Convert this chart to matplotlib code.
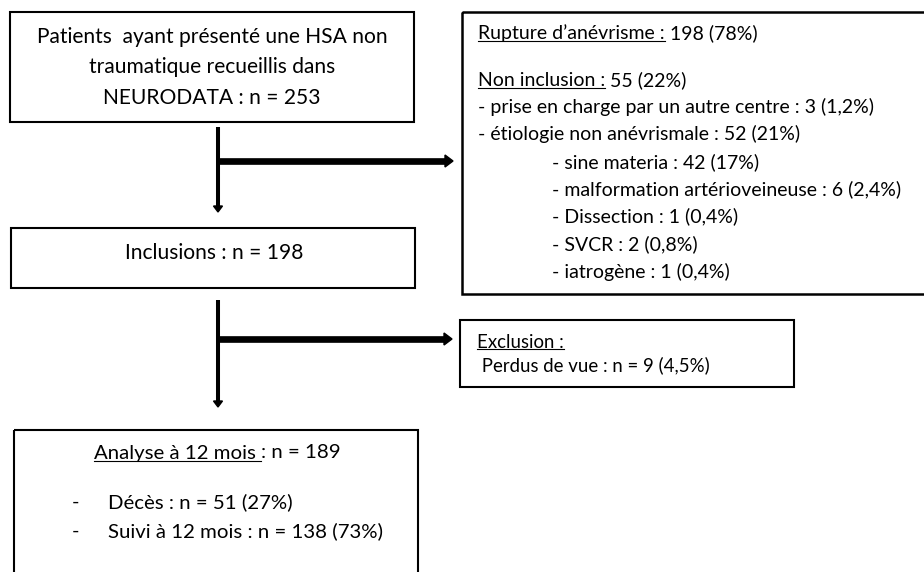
import matplotlib
matplotlib.use("Agg")
import matplotlib.pyplot as plt
from matplotlib.patches import Rectangle, Polygon

plt.rcParams['font.family'] = ['Lato', 'DejaVu Sans']

# Flowchart content
top_lines = ["Patients  ayant présenté une HSA non",
             "traumatique recueillis dans",
             "NEURODATA : n = 253"]
incl_text = "Inclusions : n = 198"
rupture = ("Rupture d’anévrisme :", " 198 (78%)")
non_incl = ("Non inclusion :", " 55 (22%)")
non_incl_items = ["- prise en charge par un autre centre : 3 (1,2%)",
                  "- étiologie non anévrismale : 52 (21%)"]
etiologies = ["- sine materia : 42 (17%)",
              "- malformation artérioveineuse : 6 (2,4%)",
              "- Dissection : 1 (0,4%)",
              "- SVCR : 2 (0,8%)",
              "- iatrogène : 1 (0,4%)"]
exclusion = ("Exclusion :", " Perdus de vue : n = 9 (4,5%)")
analyse = ("Analyse à 12 mois ", ": n = 189")
outcomes = ["Décès : n = 51 (27%)",
            "Suivi à 12 mois : n = 138 (73%)"]

W, H = 924, 572
fig = plt.figure(figsize=(W / 100, H / 100), dpi=100)
ax = fig.add_axes([0, 0, 1, 1])
ax.set_xlim(0, W)
ax.set_ylim(H, 0)
ax.axis('off')

FS_LEFT = 15.1
FS_RIGHT = 14.0
FS_EXCL = 13.4
FS_BOTTOM = 14.7
renderer = fig.canvas.get_renderer()


def box(x0, y0, x1, y1, lw=1.5):
    ax.add_patch(Rectangle((x0, y0), x1 - x0, y1 - y0, fill=False,
                           edgecolor='black', lw=lw, clip_on=False))


def underlined(x, y, first, rest, fs):
    # draw the underlined part, then the rest right after it
    t = ax.text(x, y, first, fontsize=fs, ha='left', va='center')
    bb = t.get_window_extent(renderer).transformed(ax.transData.inverted())
    x1 = bb.x1
    off = 0.4 * fs * 100 / 72
    ax.plot([x, x1], [y + off, y + off], color='black', lw=0.8)
    ax.text(x1, y, rest, fontsize=fs, ha='left', va='center')


def arrow_down(x, y0, y1, lw=2.9):
    ax.plot([x, x], [y0, y1 - 6], color='black', lw=lw, solid_capstyle='butt')
    ax.add_patch(Polygon([[x - 4.5, y1 - 6], [x + 4.5, y1 - 6], [x, y1]],
                         color='black'))


def arrow_right(x0, x1, y, lw=4.8):
    ax.plot([x0, x1 - 8], [y, y], color='black', lw=lw, solid_capstyle='butt')
    ax.add_patch(Polygon([[x1 - 8, y - 6], [x1 - 8, y + 6], [x1, y]],
                         color='black'))


# boxes
box(10, 12, 414, 122)
box(11, 228, 415, 288)
box(462, 12, 930, 294, lw=1.8)
box(460, 320, 794, 387)
box(14, 430, 418, 580)

# top-left box text
for y, line in zip([37, 67, 98], top_lines):
    ax.text(212, y, line, fontsize=FS_LEFT, ha='center', va='center')
ax.text(214, 253, incl_text, fontsize=FS_LEFT, ha='center', va='center')

# arrows
arrow_down(218, 127, 212)
arrow_right(218, 453, 161)
arrow_down(218, 300, 407)
arrow_right(218, 452, 339)

# right box
underlined(478, 33, *rupture, FS_RIGHT)
underlined(478, 80, *non_incl, FS_RIGHT)
for y, line in zip([107, 134], non_incl_items):
    ax.text(478, y, line, fontsize=FS_RIGHT, ha='left', va='center')
for y, line in zip([162, 189, 216, 244, 272], etiologies):
    ax.text(552, y, line, fontsize=FS_RIGHT, ha='left', va='center')

# exclusion box
underlined(477, 342, exclusion[0], "", FS_EXCL)
ax.text(477, 365, exclusion[1], fontsize=FS_EXCL, ha='left', va='center')

# analysis box
underlined(94, 453, *analyse, FS_BOTTOM)
for y, line in zip([502, 531], outcomes):
    ax.text(72, y, "-", fontsize=FS_BOTTOM, ha='left', va='center')
    ax.text(108, y, line, fontsize=FS_BOTTOM, ha='left', va='center')

fig.savefig("out.png", dpi=100)
